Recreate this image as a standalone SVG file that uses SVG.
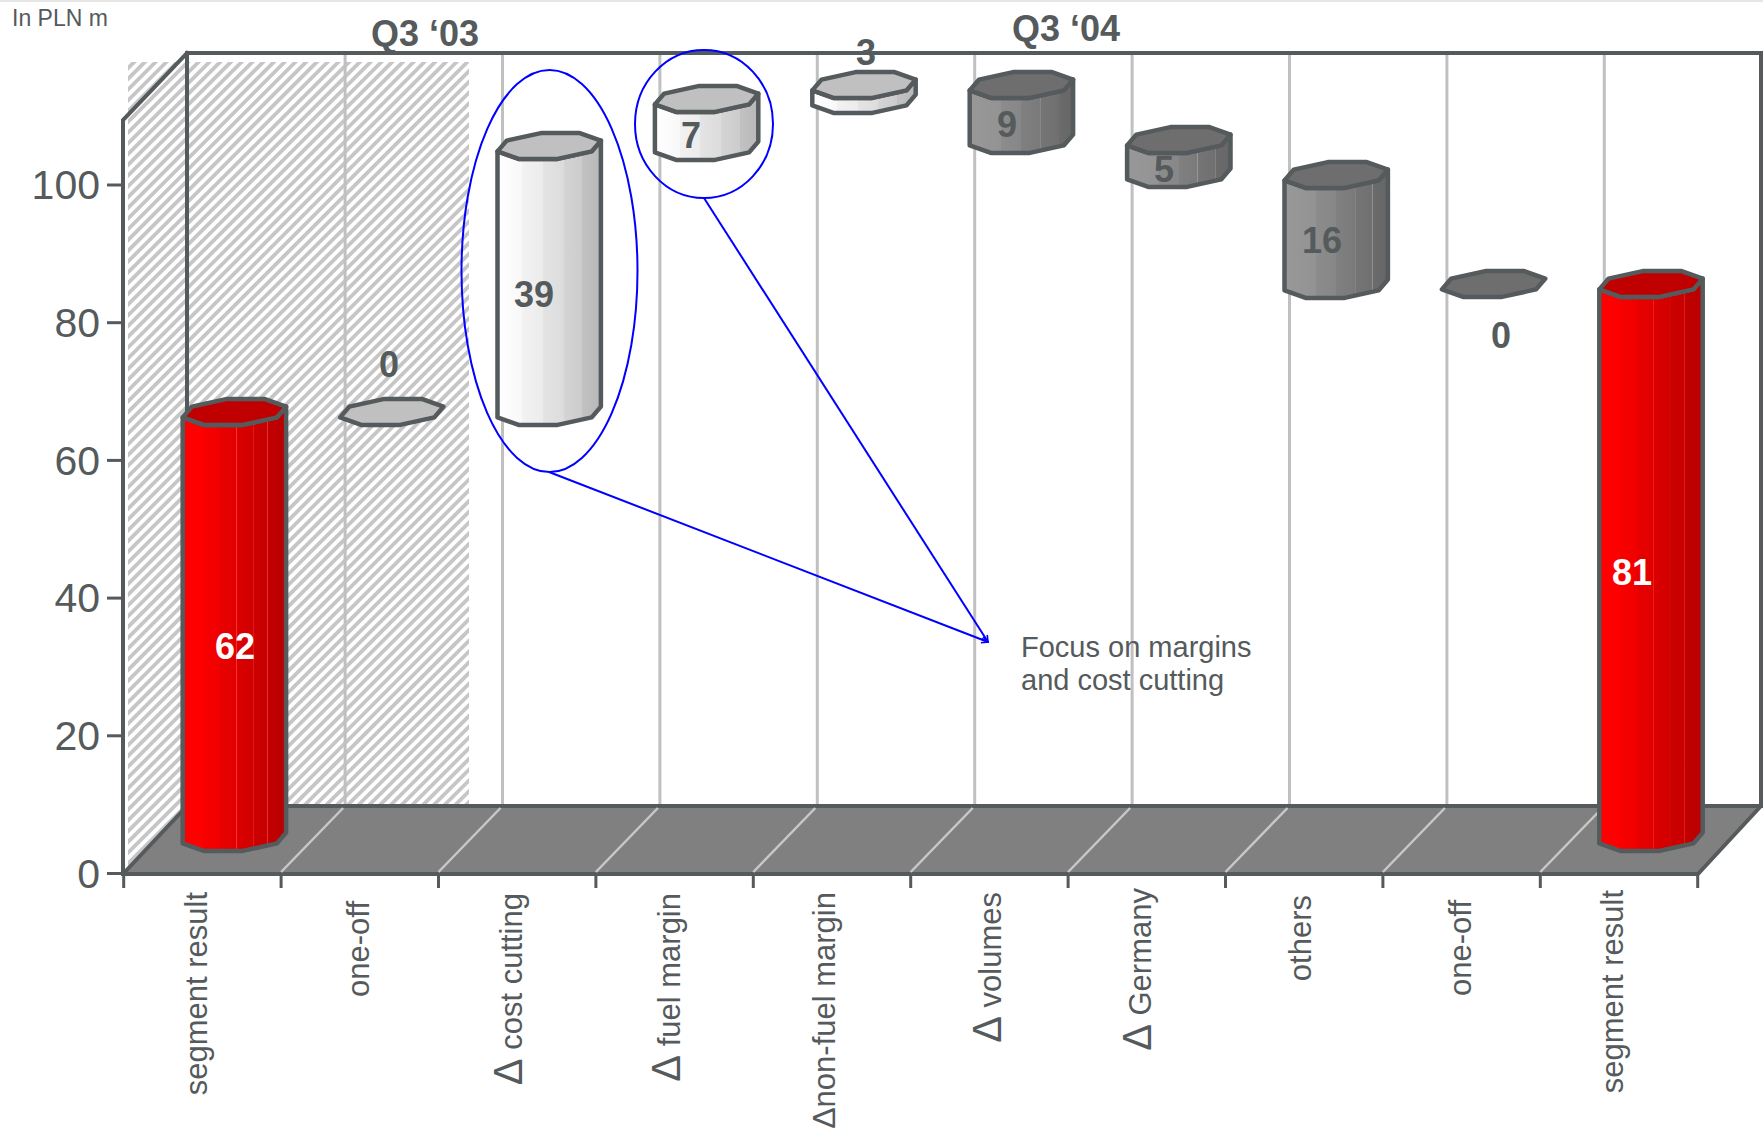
<svg xmlns="http://www.w3.org/2000/svg" xmlns:xlink="http://www.w3.org/1999/xlink" width="1763" height="1139" viewBox="0 0 1763 1139">
<defs>
<style>
.t{font-family:"Liberation Sans",Arial,sans-serif;fill:#555a5c}
.b{font-weight:bold;font-size:36px;text-anchor:middle}
.w{fill:#ffffff}
.ax{font-size:41px;text-anchor:end}
.cat{font-size:31px;text-anchor:end}
.dl{font-size:40px}
.edge{stroke:#555a5c;stroke-width:4;fill:none;stroke-linecap:square}
.grid{stroke:#c0c0c0;stroke-width:3}
.fd{stroke:#c8c8c8;stroke-width:2.5}
.tick{stroke:#555a5c;stroke-width:3}
.cyl{stroke:#555a5c;stroke-width:4.5;stroke-linejoin:round}
.blue{stroke:#0000ff;stroke-width:2;fill:none}
</style>
<pattern id="hatch" patternUnits="userSpaceOnUse" width="7.6" height="7.6" patternTransform="rotate(45)">
<rect width="7.6" height="7.6" fill="#ffffff"/>
<rect width="3.8" height="7.6" fill="#c6c6c6"/>
</pattern>
<linearGradient id="gRed" x1="0" y1="0" x2="1" y2="0">
<stop offset="0" stop-color="#ff0000"/><stop offset="0.2" stop-color="#ff0000"/>
<stop offset="0.2" stop-color="#f80000"/><stop offset="0.36" stop-color="#f00000"/>
<stop offset="0.36" stop-color="#e80000"/><stop offset="0.52" stop-color="#e00000"/>
<stop offset="0.52" stop-color="#ff3030"/><stop offset="0.53" stop-color="#da0000"/>
<stop offset="0.68" stop-color="#d20000"/><stop offset="0.68" stop-color="#f03030"/>
<stop offset="0.69" stop-color="#cc0000"/><stop offset="0.82" stop-color="#c80000"/>
<stop offset="0.82" stop-color="#e03030"/><stop offset="0.83" stop-color="#c20000"/>
<stop offset="1" stop-color="#b80000"/>
</linearGradient>
<linearGradient id="gWhite" x1="0" y1="0" x2="1" y2="0">
<stop offset="0" stop-color="#ffffff"/><stop offset="0.24" stop-color="#f8f8f8"/>
<stop offset="0.24" stop-color="#f2f2f2"/><stop offset="0.44" stop-color="#ececec"/>
<stop offset="0.44" stop-color="#e4e4e4"/><stop offset="0.64" stop-color="#dcdcdc"/>
<stop offset="0.64" stop-color="#d4d4d4"/><stop offset="0.82" stop-color="#cccccc"/>
<stop offset="0.82" stop-color="#c2c2c2"/><stop offset="1" stop-color="#b8b8b8"/>
</linearGradient>
<linearGradient id="gDark" x1="0" y1="0" x2="1" y2="0">
<stop offset="0" stop-color="#989898"/><stop offset="0.3" stop-color="#939393"/>
<stop offset="0.3" stop-color="#8c8c8c"/><stop offset="0.5" stop-color="#878787"/>
<stop offset="0.5" stop-color="#808080"/><stop offset="0.68" stop-color="#7a7a7a"/>
<stop offset="0.68" stop-color="#9a9a9a"/><stop offset="0.69" stop-color="#757575"/>
<stop offset="0.85" stop-color="#707070"/><stop offset="0.85" stop-color="#959595"/>
<stop offset="0.86" stop-color="#6b6b6b"/><stop offset="1" stop-color="#666666"/>
</linearGradient>
<path id="topface" d="M51.7,-5.4 L30.6,-12.9 L-8.4,-12.9 L-42.5,-5.4 L-51.7,5.4 L-30.6,12.9 L8.4,12.9 L42.5,5.4 Z"/>
<marker id="arr" viewBox="0 0 10 10" refX="9" refY="5" markerWidth="8" markerHeight="8" markerUnits="userSpaceOnUse" orient="auto">
<path d="M1,1 L9,5 L1,9" fill="none" stroke="#0000ff" stroke-width="2"/>
</marker>
</defs>

<rect width="1763" height="1139" fill="#ffffff"/>
<line x1="0" y1="1" x2="1763" y2="1" stroke="#e6e6e6" stroke-width="2"/>

<g id="chart-frame">
<rect x="128" y="62" width="341" height="812" fill="url(#hatch)"/>
<g id="back-grid">
<line class="grid" x1="345.1" y1="53" x2="345.1" y2="806"/>
<line class="grid" x1="502.5" y1="53" x2="502.5" y2="806"/>
<line class="grid" x1="659.9" y1="53" x2="659.9" y2="806"/>
<line class="grid" x1="817.3" y1="53" x2="817.3" y2="806"/>
<line class="grid" x1="974.7" y1="53" x2="974.7" y2="806"/>
<line class="grid" x1="1132.1" y1="53" x2="1132.1" y2="806"/>
<line class="grid" x1="1289.5" y1="53" x2="1289.5" y2="806"/>
<line class="grid" x1="1446.9" y1="53" x2="1446.9" y2="806"/>
<line class="grid" x1="1604.3" y1="53" x2="1604.3" y2="806"/>
</g>
<path class="edge" d="M187,806 V53 H1761 V806 M123,874 V120 L187,53"/>
<polygon points="123,874 1698,874 1761,806 187,806" fill="#808080" stroke="#555a5c" stroke-width="4" stroke-linejoin="round"/>
<g id="floor-lines">
<line class="fd" x1="281.1" y1="872" x2="343.1" y2="808"/>
<line class="fd" x1="438.5" y1="872" x2="500.5" y2="808"/>
<line class="fd" x1="595.9" y1="872" x2="657.9" y2="808"/>
<line class="fd" x1="753.3" y1="872" x2="815.3" y2="808"/>
<line class="fd" x1="910.7" y1="872" x2="972.7" y2="808"/>
<line class="fd" x1="1068.1" y1="872" x2="1130.1" y2="808"/>
<line class="fd" x1="1225.5" y1="872" x2="1287.5" y2="808"/>
<line class="fd" x1="1382.9" y1="872" x2="1444.9" y2="808"/>
<line class="fd" x1="1540.3" y1="872" x2="1602.3" y2="808"/>
</g>
<g id="x-ticks">
<line class="tick" x1="123.7" y1="874" x2="123.7" y2="888"/>
<line class="tick" x1="281.1" y1="874" x2="281.1" y2="888"/>
<line class="tick" x1="438.5" y1="874" x2="438.5" y2="888"/>
<line class="tick" x1="595.9" y1="874" x2="595.9" y2="888"/>
<line class="tick" x1="753.3" y1="874" x2="753.3" y2="888"/>
<line class="tick" x1="910.7" y1="874" x2="910.7" y2="888"/>
<line class="tick" x1="1068.1" y1="874" x2="1068.1" y2="888"/>
<line class="tick" x1="1225.5" y1="874" x2="1225.5" y2="888"/>
<line class="tick" x1="1382.9" y1="874" x2="1382.9" y2="888"/>
<line class="tick" x1="1540.3" y1="874" x2="1540.3" y2="888"/>
<line class="tick" x1="1697.7" y1="874" x2="1697.7" y2="888"/>
</g>
<g id="y-ticks">
<line class="tick" x1="107" y1="873.5" x2="123" y2="873.5"/>
<line class="tick" x1="107" y1="735.8" x2="123" y2="735.8"/>
<line class="tick" x1="107" y1="598.1" x2="123" y2="598.1"/>
<line class="tick" x1="107" y1="460.4" x2="123" y2="460.4"/>
<line class="tick" x1="107" y1="322.7" x2="123" y2="322.7"/>
<line class="tick" x1="107" y1="185" x2="123" y2="185"/>
</g>
<g id="y-labels">
<text class="t ax" x="100" y="888">0</text>
<text class="t ax" x="100" y="750">20</text>
<text class="t ax" x="100" y="612">40</text>
<text class="t ax" x="100" y="475">60</text>
<text class="t ax" x="100" y="337">80</text>
<text class="t ax" x="100" y="199">100</text>
</g>
</g>

<g id="x-labels">
<text class="t cat" transform="translate(207,892) rotate(-90)">segment result</text>
<text class="t cat" transform="translate(369,901) rotate(-90)">one-off</text>
<text class="t cat" transform="translate(522,893) rotate(-90)"><tspan class="dl">Δ</tspan> cost cutting</text>
<text class="t cat" transform="translate(680,893) rotate(-90)"><tspan class="dl">Δ</tspan> fuel margin</text>
<text class="t cat" transform="translate(835,892) rotate(-90)"><tspan font-size="32">Δ</tspan>non-fuel margin</text>
<text class="t cat" transform="translate(1001,892) rotate(-90)"><tspan class="dl">Δ</tspan> volumes</text>
<text class="t cat" transform="translate(1151,888) rotate(-90)"><tspan class="dl">Δ</tspan> Germany</text>
<text class="t cat" transform="translate(1311,895) rotate(-90)">others</text>
<text class="t cat" transform="translate(1471,900) rotate(-90)">one-off</text>
<text class="t cat" transform="translate(1623,890) rotate(-90)">segment result</text>
</g>

<g id="bar-segment-q303" transform="translate(234.4,412)">
<path class="cyl" fill="url(#gRed)" d="M-51.7,5.4 V431.4 L-30.6,438.9 L8.4,438.9 L42.5,431.4 L51.7,420.6 V-5.4 L42.5,5.4 L8.4,12.9 L-30.6,12.9 Z"/>
<use xlink:href="#topface" class="cyl" fill="#c00000"/>
</g>
<g id="bar-oneoff-1" transform="translate(391.8,412)">
<use xlink:href="#topface" class="cyl" fill="#c0c0c0"/>
</g>
<g id="bar-cost-cutting" transform="translate(549.2,146)">
<path class="cyl" fill="url(#gWhite)" d="M-51.7,5.4 V271.4 L-30.6,278.9 L8.4,278.9 L42.5,271.4 L51.7,260.6 V-5.4 L42.5,5.4 L8.4,12.9 L-30.6,12.9 Z"/>
<use xlink:href="#topface" class="cyl" fill="#c0c0c0"/>
</g>
<g id="bar-fuel-margin" transform="translate(706.6,99)">
<path class="cyl" fill="url(#gWhite)" d="M-51.7,5.4 V53.4 L-30.6,60.9 L8.4,60.9 L42.5,53.4 L51.7,42.6 V-5.4 L42.5,5.4 L8.4,12.9 L-30.6,12.9 Z"/>
<use xlink:href="#topface" class="cyl" fill="#c0c0c0"/>
</g>
<g id="bar-nonfuel-margin" transform="translate(864,85)">
<path class="cyl" fill="url(#gWhite)" d="M-51.7,5.4 V20.4 L-30.6,27.9 L8.4,27.9 L42.5,20.4 L51.7,9.6 V-5.4 L42.5,5.4 L8.4,12.9 L-30.6,12.9 Z"/>
<use xlink:href="#topface" class="cyl" fill="#c0c0c0"/>
</g>
<g id="bar-volumes" transform="translate(1021.4,85)">
<path class="cyl" fill="url(#gDark)" d="M-51.7,5.4 V60.4 L-30.6,67.9 L8.4,67.9 L42.5,60.4 L51.7,49.6 V-5.4 L42.5,5.4 L8.4,12.9 L-30.6,12.9 Z"/>
<use xlink:href="#topface" class="cyl" fill="#6e6e6e"/>
</g>
<g id="bar-germany" transform="translate(1178.8,140)">
<path class="cyl" fill="url(#gDark)" d="M-51.7,5.4 V39.4 L-30.6,46.9 L8.4,46.9 L42.5,39.4 L51.7,28.6 V-5.4 L42.5,5.4 L8.4,12.9 L-30.6,12.9 Z"/>
<use xlink:href="#topface" class="cyl" fill="#6e6e6e"/>
</g>
<g id="bar-others" transform="translate(1336.2,175)">
<path class="cyl" fill="url(#gDark)" d="M-51.7,5.4 V115.4 L-30.6,122.9 L8.4,122.9 L42.5,115.4 L51.7,104.6 V-5.4 L42.5,5.4 L8.4,12.9 L-30.6,12.9 Z"/>
<use xlink:href="#topface" class="cyl" fill="#6e6e6e"/>
</g>
<g id="bar-oneoff-2" transform="translate(1493.6,284)">
<use xlink:href="#topface" class="cyl" fill="#6e6e6e"/>
</g>
<g id="bar-segment-q304" transform="translate(1651,284)">
<path class="cyl" fill="url(#gRed)" d="M-51.7,5.4 V559.4 L-30.6,566.9 L8.4,566.9 L42.5,559.4 L51.7,548.6 V-5.4 L42.5,5.4 L8.4,12.9 L-30.6,12.9 Z"/>
<use xlink:href="#topface" class="cyl" fill="#c00000"/>
</g>

<g id="value-labels">
<text class="t b w" x="235" y="659">62</text>
<text class="t b" x="389" y="377">0</text>
<text class="t b" x="534" y="307">39</text>
<text class="t b" x="691" y="148">7</text>
<text class="t b" x="866" y="65">3</text>
<text class="t b" x="1007" y="137">9</text>
<text class="t b" x="1164" y="182">5</text>
<text class="t b" x="1322" y="253">16</text>
<text class="t b" x="1501" y="348">0</text>
<text class="t b w" x="1632" y="585">81</text>
</g>

<g id="headers">
<text class="t" x="12" y="26" font-size="23">In PLN m</text>
<text class="t b" x="425" y="46">Q3 ‘03</text>
<text class="t b" x="1066" y="41">Q3 ‘04</text>
</g>

<g id="annotation">
<ellipse class="blue" cx="549.5" cy="271" rx="88" ry="201"/>
<ellipse class="blue" cx="704" cy="124" rx="69" ry="74"/>
<g id="connectors">
<line class="blue" x1="549" y1="472" x2="988" y2="642" marker-end="url(#arr)"/>
<line class="blue" x1="704" y1="198" x2="988" y2="642" marker-end="url(#arr)"/>
</g>
<text class="t" font-size="29" x="1021" y="657">Focus on margins</text>
<text class="t" font-size="29" x="1021" y="690">and cost cutting</text>
</g>
</svg>
